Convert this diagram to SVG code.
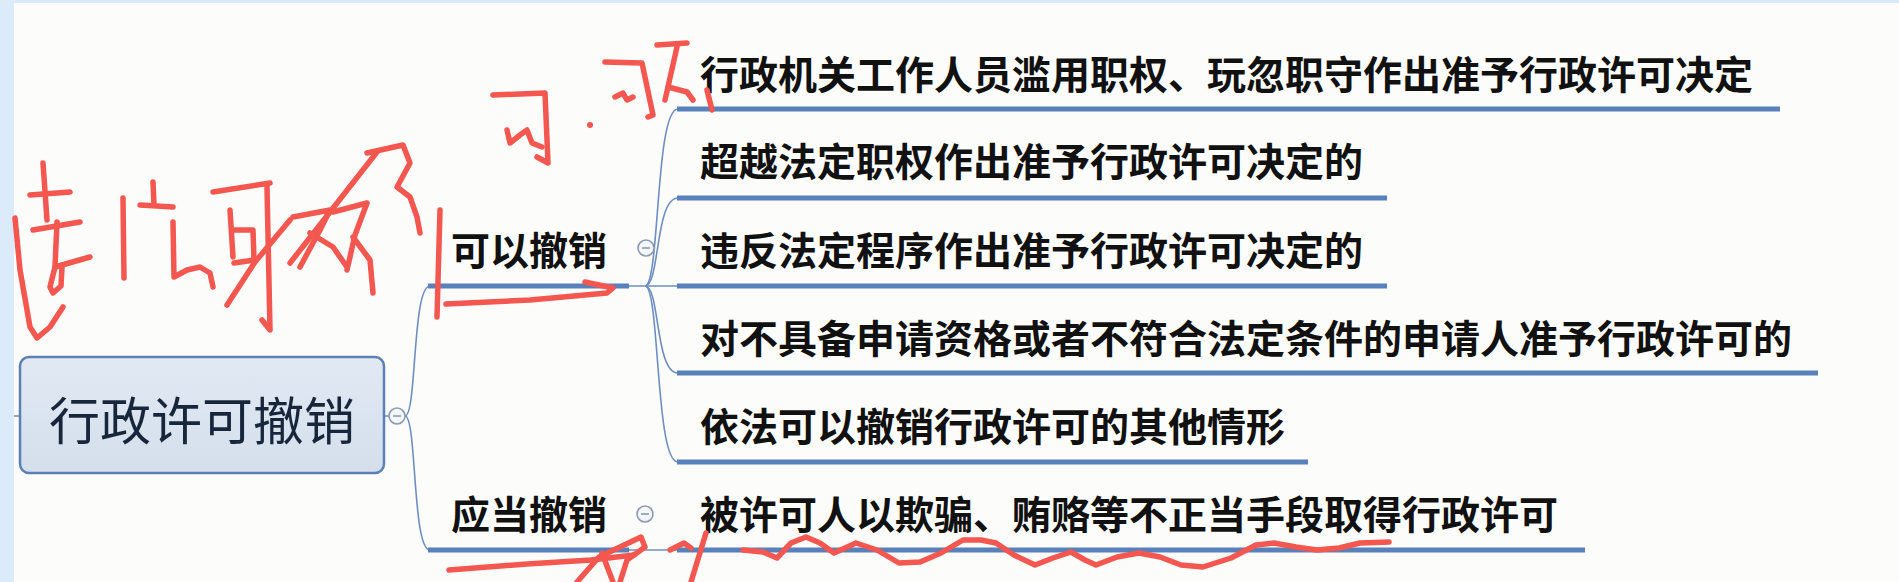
<svg xmlns="http://www.w3.org/2000/svg" width="1899" height="582" viewBox="0 0 1899 582">
<defs>
<style>
.bg{fill:#fcfdfb}
.frame{fill:#dcebfa}
.t{font-family:"Noto Sans CJK SC","Liberation Sans",sans-serif;font-weight:700;font-size:39px;fill:#111;dominant-baseline:central}
.root-t{font-family:"Noto Sans CJK SC","Liberation Sans",sans-serif;font-weight:400;font-size:51px;fill:#17263b;dominant-baseline:central;text-anchor:middle}
.ul{stroke:#5880ba;stroke-width:5;fill:none}
.cn{stroke:#6f8ec0;stroke-width:1.6;fill:none}
.tog{fill:#f4f6f9;stroke:#8a9ab3;stroke-width:1.6}
.tog-m{stroke:#7d8da6;stroke-width:1.4}
.ink{fill:none;stroke:#f3574f;stroke-width:5.5;stroke-linecap:round;stroke-linejoin:round}
</style>
<linearGradient id="rootfill" x1="0" y1="0" x2="0" y2="1">
<stop offset="0" stop-color="#e1e9f3"/>
<stop offset="1" stop-color="#d4dfec"/>
</linearGradient>
</defs>

<rect class="bg" x="0" y="0" width="1899" height="582"/>
<rect class="frame" x="0" y="0" width="1899" height="3"/>
<rect class="frame" x="0" y="0" width="14" height="582"/>

<g id="connectors">
<line class="cn" x1="14" y1="416" x2="20" y2="416"/>
<line class="cn" x1="384" y1="416" x2="389" y2="416"/>
<path class="cn" d="M405,416 C417,416 412,286 430,286"/>
<path class="cn" d="M405,416 C417,416 412,550 430,550"/>
<line class="cn" x1="629" y1="286" x2="677" y2="286"/>
<path class="cn" d="M645,286 C660,286 655,109 678,109"/>
<path class="cn" d="M645,286 C660,286 655,198 678,198"/>
<path class="cn" d="M645,286 C660,286 655,373 678,373"/>
<path class="cn" d="M645,286 C660,286 655,462 678,462"/>
<line class="cn" x1="629" y1="550" x2="677" y2="550"/>
</g>

<g id="root">
<rect x="20" y="357" width="364" height="116" rx="9" fill="url(#rootfill)" stroke="#5b80b4" stroke-width="2.5"/>
<text class="root-t" x="202" y="418">行政许可撤销</text>
<circle class="tog" cx="397" cy="416" r="8"/>
<line class="tog-m" x1="393" y1="416" x2="401" y2="416"/>
</g>

<g id="n-keyi">
<text class="t" x="451" y="248">可以撤销</text>
<line class="ul" x1="428" y1="286" x2="629" y2="286"/>
<circle class="tog" cx="646" cy="248" r="8"/>
<line class="tog-m" x1="642" y1="248" x2="650" y2="248"/>
</g>

<g id="n-yingdang">
<text class="t" x="451" y="512">应当撤销</text>
<line class="ul" x1="428" y1="550" x2="629" y2="550"/>
<circle class="tog" cx="645" cy="514" r="8"/>
<line class="tog-m" x1="641" y1="514" x2="649" y2="514"/>
</g>

<g id="c1">
<text class="t" x="700" y="72">行政机关工作人员滥用职权、玩忽职守作出准予行政许可决定</text>
<line class="ul" x1="677" y1="109" x2="1780" y2="109"/>
</g>
<g id="c2">
<text class="t" x="700" y="159">超越法定职权作出准予行政许可决定的</text>
<line class="ul" x1="677" y1="198" x2="1387" y2="198"/>
</g>
<g id="c3">
<text class="t" x="700" y="248">违反法定程序作出准予行政许可决定的</text>
<line class="ul" x1="677" y1="286" x2="1387" y2="286"/>
</g>
<g id="c4">
<text class="t" x="700" y="336">对不具备申请资格或者不符合法定条件的申请人准予行政许可的</text>
<line class="ul" x1="677" y1="373" x2="1818" y2="373"/>
</g>
<g id="c5">
<text class="t" x="700" y="424">依法可以撤销行政许可的其他情形</text>
<line class="ul" x1="677" y1="462" x2="1308" y2="462"/>
</g>
<g id="c6">
<text class="t" x="700" y="512">被许可人以欺骗、贿赂等不正当手段取得行政许可</text>
<line class="ul" x1="677" y1="550" x2="1585" y2="550"/>
</g>

<g id="annotations">
<!-- left handwriting -->
<path class="ink" d="M15,218 L20,270 L30,327 L37,338 L50,327 L63,307"/>
<path class="ink" d="M43,163 L47,220"/>
<path class="ink" d="M30,195 L70,192"/>
<path class="ink" d="M33,230 L80,222"/>
<path class="ink" d="M57,222 L55,267 L50,287 L53,293 L61,286 L62,267"/>
<path class="ink" d="M55,267 L90,257"/>
<path class="ink" d="M123,198 L124,278"/>
<path class="ink" d="M153,182 L154,205"/>
<path class="ink" d="M140,205 L173,207"/>
<path class="ink" d="M173,222 L174,277 L187,270 L200,267 L210,273 L213,287"/>
<path class="ink" d="M213,192 L270,183"/>
<path class="ink" d="M230,210 L233,257"/>
<path class="ink" d="M233,230 L253,230 L254,260 L234,263"/>
<path class="ink" d="M267,187 L270,330 L262,320"/>
<path class="ink" d="M227,305 L255,262 L290,220"/>
<path class="ink" d="M293,217 L330,210 L320,230 L300,267"/>
<path class="ink" d="M310,233 L333,247 L347,267"/>
<path class="ink" d="M333,212 L367,203 L355,235 L347,270"/>
<path class="ink" d="M353,237 L370,260 L373,293"/>
<path class="ink" d="M290,263 L377,152"/>
<path class="ink" d="M367,153 L403,145 L410,163 L397,187 L410,197 L417,217 L420,233"/>
<path class="ink" d="M440,210 L437,317"/>
<!-- underline hook below 可以撤销 -->
<path class="ink" d="M446,304 L530,300 L607,293 L613,288 L585,282"/>
<!-- top handwriting -->
<path class="ink" d="M493,95 L545,93 L548,163 L537,157"/>
<path class="ink" d="M507,130 L510,143 L520,135 L527,130 L532,143 L542,147"/>
<circle cx="590" cy="125" r="3" fill="#f3574f"/>
<path class="ink" d="M605,62 L642,63 L653,115 L648,117"/>
<path class="ink" d="M615,97 L623,93 L627,100 L633,97"/>
<path class="ink" d="M657,45 L687,43"/>
<path class="ink" d="M677,47 L665,100"/>
<path class="ink" d="M668,87 L687,92 L693,100"/>
<path class="ink" d="M707,90 L712,110"/>
<!-- bottom handwriting -->
<path class="ink" d="M449,570 L527,564 L591,560 L634,555"/>
<path class="ink" d="M577,582 L599,557 L620,547 L641,537 L645,547 L627,560 L620,582"/>
<path class="ink" d="M602,553 L613,582"/>
<path class="ink" d="M670,550 L684,543 L691,548"/>
<path class="ink" d="M706,533 L691,582"/>
<!-- wavy underline -->
<path class="ink" d="M743,550 L763,552 L777,558 L791,543 L806,537 L820,543 L834,553 L856,543 L877,550 L899,563 L920,562 L941,553 L963,540 L981,540 L996,543 L1014,555 L1035,565 L1053,558 L1071,552 L1085,560 L1096,565 L1117,557 L1139,553 L1160,557 L1181,565 L1203,567 L1231,558 L1256,545 L1274,543 L1296,547 L1317,550 L1339,548 L1360,543 L1389,542"/>
</g>
</svg>
